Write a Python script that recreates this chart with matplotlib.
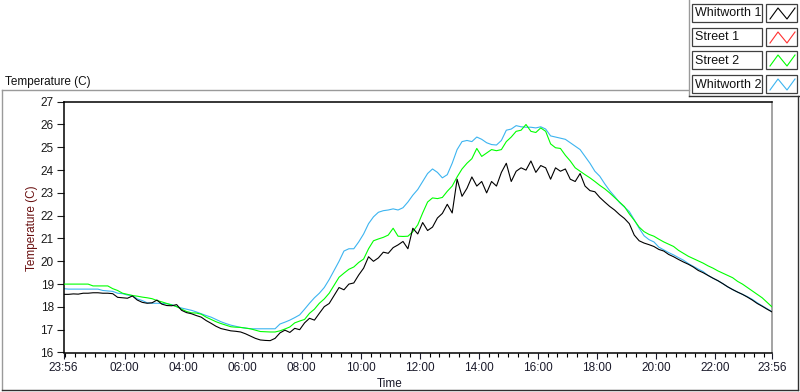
import matplotlib
matplotlib.use('Agg')
import matplotlib.pyplot as plt
import numpy as np
from matplotlib.lines import Line2D
from matplotlib.patches import Rectangle

plt.rcParams['font.family'] = ['Liberation Sans', 'DejaVu Sans']

# readings every 10 minutes, starting 23:56
step_min = 10

whitworth1 = [
    18.55, 18.55, 18.57, 18.56, 18.6, 18.6, 18.62, 18.62, 18.6, 18.6,
    18.58, 18.42, 18.4, 18.38, 18.48, 18.3, 18.2, 18.16, 18.18, 18.3,
    18.12, 18.06, 18.05, 18.1, 17.85, 17.75, 17.7, 17.62, 17.55, 17.4,
    17.28, 17.15, 17.05, 17.0, 16.95, 16.93, 16.9, 16.82, 16.72, 16.62,
    16.55, 16.53, 16.52, 16.62, 16.86, 16.98, 16.88, 17.06, 17.0, 17.3,
    17.5, 17.42, 17.72, 18.01, 18.15, 18.5, 18.85, 18.75, 19.0, 19.05,
    19.4, 19.7, 20.2, 20.0, 20.15, 20.4, 20.35, 20.6, 20.72, 20.87,
    20.55, 21.45, 21.2, 21.7, 21.35, 21.5, 21.9, 22.1, 22.5, 22.12,
    23.6, 22.85, 23.2, 23.7, 23.3, 23.5, 23.0, 23.5, 23.3, 23.9,
    24.3, 23.5, 23.95, 24.1, 24.0, 24.4, 23.9, 24.2, 24.1, 23.6,
    24.1, 23.95, 24.05, 23.6, 23.5, 23.85, 23.3, 23.1, 23.05, 22.8,
    22.6, 22.41, 22.25, 22.05, 21.88, 21.65, 21.15, 20.9, 20.8, 20.73,
    20.65, 20.52, 20.45, 20.3, 20.2, 20.08, 19.97, 19.87, 19.75, 19.6,
    19.5, 19.38, 19.26, 19.15, 19.02, 18.88, 18.76, 18.65, 18.55, 18.43,
    18.3, 18.15, 18.03, 17.9, 17.78,
]

street1 = []  # no data shown for Street 1

street2 = [
    19.0, 19.0, 19.0, 19.0, 19.0, 19.0, 18.92, 18.92, 18.92, 18.92,
    18.8, 18.72, 18.6, 18.55, 18.5, 18.47, 18.43, 18.4, 18.36, 18.28,
    18.22, 18.15, 18.08, 18.01, 17.9, 17.8, 17.74, 17.73, 17.68, 17.55,
    17.45, 17.35, 17.27, 17.2, 17.13, 17.11, 17.1, 17.07, 17.04, 16.98,
    16.92, 16.91, 16.9, 16.9, 16.95, 17.03, 17.12, 17.3, 17.38, 17.45,
    17.72, 17.9, 18.16, 18.35, 18.6, 18.95, 19.3, 19.48, 19.65, 19.75,
    19.95, 20.1, 20.55, 20.9, 20.98, 21.05, 21.15, 21.45, 21.1, 21.09,
    21.1, 21.3, 21.6, 22.12, 22.6, 22.78, 22.75, 22.8, 23.07, 23.3,
    23.7, 24.05, 24.3, 24.5, 24.95, 24.6, 24.75, 24.9, 24.85, 24.9,
    25.25, 25.45, 25.7, 25.75, 26.0, 25.7, 25.65, 25.85, 25.7, 25.15,
    24.98, 24.95, 24.65, 24.4, 24.1, 23.95, 23.8, 23.66, 23.5, 23.33,
    23.18, 23.0, 22.8, 22.6, 22.4, 22.08, 21.8, 21.5, 21.3, 21.18,
    21.1, 20.97, 20.85, 20.75, 20.65, 20.48, 20.35, 20.22, 20.12, 20.02,
    19.92, 19.8, 19.7, 19.58, 19.48, 19.38, 19.28, 19.12, 19.0, 18.85,
    18.7, 18.55, 18.4, 18.2, 18.0,
]

whitworth2 = [
    18.8, 18.78, 18.78, 18.78, 18.78, 18.78, 18.78, 18.78, 18.72, 18.7,
    18.68, 18.6, 18.58, 18.52, 18.5, 18.35, 18.28, 18.18, 18.16, 18.16,
    18.15, 18.14, 18.1, 18.01, 17.95, 17.9, 17.85, 17.78, 17.7, 17.62,
    17.55, 17.45, 17.35, 17.27, 17.2, 17.15, 17.1, 17.07, 17.04, 17.04,
    17.04, 17.04, 17.04, 17.04, 17.25, 17.33, 17.42, 17.53, 17.65, 17.9,
    18.16, 18.4, 18.6, 18.85, 19.2, 19.6, 20.0, 20.45, 20.55, 20.55,
    20.85, 21.2, 21.65, 21.95, 22.15, 22.22, 22.25, 22.3, 22.25, 22.35,
    22.6, 22.9, 23.15, 23.5, 23.85, 24.05, 23.9, 23.66, 23.8, 24.3,
    24.9, 25.25, 25.3, 25.25, 25.45, 25.35, 25.2, 25.12, 25.1, 25.3,
    25.75, 25.8, 25.95, 25.9, 25.88, 25.88, 25.85, 25.9, 25.8, 25.5,
    25.45, 25.4, 25.35, 25.2, 25.05, 24.9, 24.6, 24.3, 23.95, 23.73,
    23.4, 23.1, 22.85, 22.58, 22.38, 22.18, 21.82, 21.45, 21.12, 20.95,
    20.85, 20.62, 20.5, 20.38, 20.28, 20.16, 20.05, 19.9, 19.78, 19.66,
    19.55, 19.38, 19.26, 19.15, 19.02, 18.88, 18.76, 18.65, 18.55, 18.45,
    18.33, 18.18, 18.05, 17.92, 17.79,
]

series_names = ['Whitworth 1', 'Street 1', 'Street 2', 'Whitworth 2']
series_colors = ['#000000', '#ff3030', '#00ff00', '#3cb4f0']

# x axis in minutes after 23:56
tick_minutes = [0, 124, 244, 364, 484, 604, 724, 844, 964, 1084, 1204, 1324, 1440]
tick_labels = ['23:56', '02:00', '04:00', '06:00', '08:00', '10:00', '12:00',
               '14:00', '16:00', '18:00', '20:00', '22:00', '23:56']
y_ticks = list(range(16, 28))

W, H = 800, 392
def fx(px):
    return px / W
def fy(py):
    return 1 - py / H

fig = plt.figure(figsize=(8, 3.92), dpi=100, facecolor='white')
ax = fig.add_axes([fx(63.5), fy(352.5), fx(772) - fx(63.5), fy(101.7) - fy(352.5)])

t = np.arange(len(whitworth1)) * step_min
ax.plot(t, whitworth2, color=series_colors[3], lw=0.8, zorder=2)
ax.plot(t, street2, color=series_colors[2], lw=0.8, zorder=3)
ax.plot(np.arange(len(street1)) * step_min, street1, color=series_colors[1], lw=0.8)
ax.plot(t, whitworth1, color=series_colors[0], lw=0.8, zorder=4)

ax.set_xlim(0, 1440)
ax.set_ylim(16, 27)
ax.set_yticks(y_ticks)
ax.set_xticks(tick_minutes)
ax.set_xticklabels(tick_labels)
ax.set_xticks(np.arange(4, 1440, 20), minor=True)
ax.tick_params(axis='x', which='major', length=4.5, width=0.8, pad=2.5, labelsize=8.5, colors='#1a1a2a')
ax.tick_params(axis='x', which='minor', length=3, width=0.8)
ax.tick_params(axis='y', length=5, width=0.8, pad=2, labelsize=8.5, colors='#1a1a1a')
for s in ['left', 'bottom', 'top']:
    ax.spines[s].set_color('black')
    ax.spines[s].set_linewidth(1.1)
ax.spines['right'].set_color('#8a8a8a')
ax.spines['right'].set_linewidth(1.1)

fig.text(fx(5), fy(82), 'Temperature (C)', fontsize=8.5, va='center', ha='left', color='#111111')
fig.text(fx(32), fy(228), 'Temperature (C)', fontsize=8.5, rotation=90, va='center', ha='center', color='#6a1010')
fig.text(fx(390), fy(384), 'Time', fontsize=8.5, va='center', ha='center', color='#1a1a2a')

# outer frame
def fline(xs, ys, color, lw=1.0):
    fig.add_artist(Line2D([fx(x) for x in xs], [fy(y) for y in ys], color=color, lw=lw,
                          transform=fig.transFigure))

fline([2, 2], [90, 390], '#9a9a9a')
fline([2, 689], [90, 90], '#9a9a9a')
fline([2, 798], [390, 390], '#303030')
fline([798, 798], [96, 390], '#303030')
fline([689, 689], [0, 96], '#9a9a9a')
fline([689, 800], [96, 96], '#303030')

# legend
row_tops = [4, 28, 51, 75]
for name, color, top in zip(series_names, series_colors, row_tops):
    fig.add_artist(Rectangle((fx(692), fy(top + 18)), fx(762) - fx(692), fy(top) - fy(top + 18),
                             transform=fig.transFigure, facecolor='white', edgecolor='#404040', lw=0.9))
    fig.text(fx(695), fy(top + 9.5), name, fontsize=9, va='center', ha='left', color='#111111')
    fig.add_artist(Rectangle((fx(766), fy(top + 18)), fx(797) - fx(766), fy(top) - fy(top + 18),
                             transform=fig.transFigure, facecolor='white', edgecolor='#404040', lw=0.9))
    fline([770, 778, 787, 795], [top + 15, top + 4, top + 15, top + 4], color, lw=0.8)

fig.savefig('out.png', dpi=100, facecolor='white')
